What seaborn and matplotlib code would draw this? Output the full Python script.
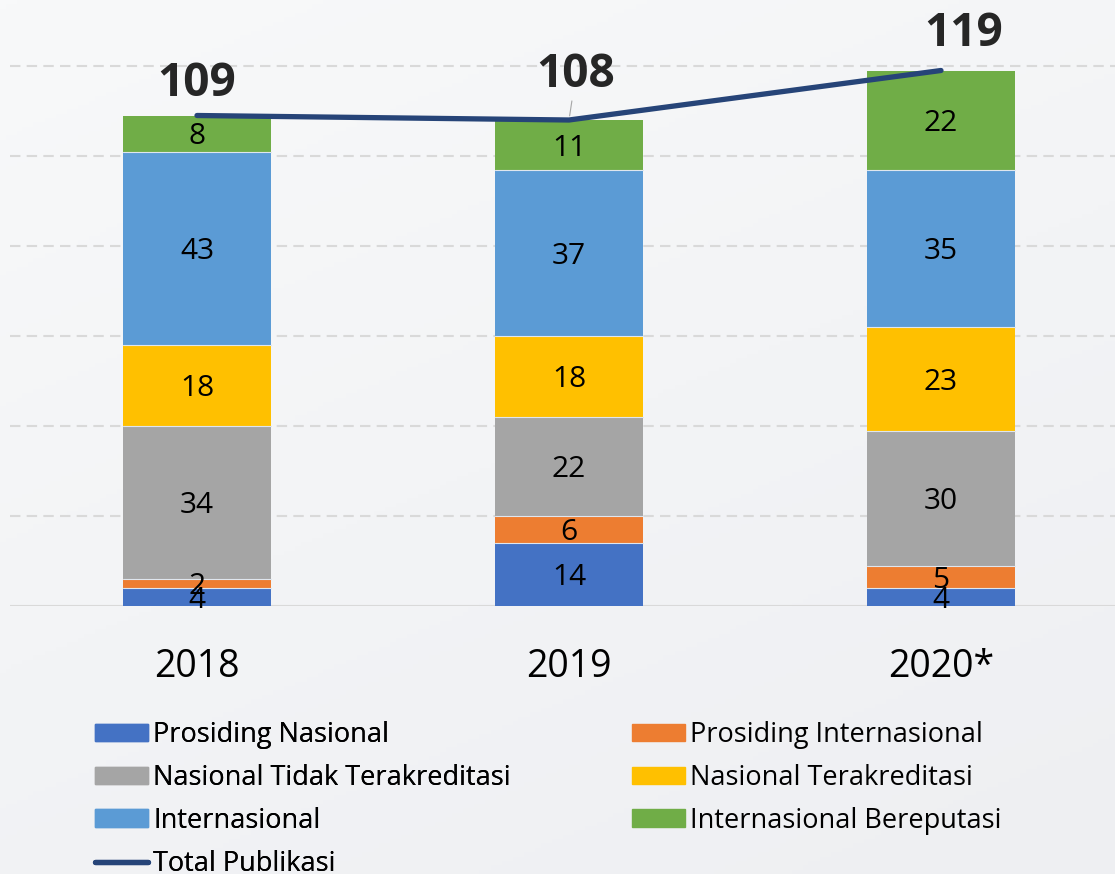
import numpy as np
import pandas as pd
import matplotlib
matplotlib.use("Agg")
import matplotlib.pyplot as plt
from matplotlib.patches import Patch
from matplotlib.lines import Line2D
import seaborn as sns

years = ["2018", "2019", "2020*"]
categories = ["Prosiding Nasional", "Prosiding Internasional", "Nasional Tidak Terakreditasi",
              "Nasional Terakreditasi", "Internasional", "Internasional Bereputasi"]
prosiding_nasional = [4, 14, 4]
prosiding_internasional = [2, 6, 5]
nasional_tidak_terakreditasi = [34, 22, 30]
nasional_terakreditasi = [18, 18, 23]
internasional = [43, 37, 35]
internasional_bereputasi = [8, 11, 22]
total_publikasi = [109, 108, 119]

colors = ["#4472C4", "#ED7D31", "#A5A5A5", "#FFC000", "#5B9BD5", "#70AD47"]
line_color = "#264478"

sns.set_style("white")
plt.rcParams["font.family"] = ["Open Sans", "DejaVu Sans"]

df = pd.DataFrame({"year": years})
series = [prosiding_nasional, prosiding_internasional, nasional_tidak_terakreditasi,
          nasional_terakreditasi, internasional, internasional_bereputasi]
for name, vals in zip(categories, series):
    df[name] = vals
cum = df[categories].cumsum(axis=1)

fig = plt.figure(figsize=(11.15, 8.74), dpi=100)

# light gradient background
bg = fig.add_axes([0, 0, 1, 1], zorder=-10)
gx, gy = np.meshgrid(np.linspace(0, 1, 200), np.linspace(0, 1, 200))
grad = 0.35 * gx + 0.65 * gy
bg.imshow(grad, cmap=matplotlib.colors.LinearSegmentedColormap.from_list(
    "bg", ["#f8f9fa", "#eeeff2"]), aspect="auto", extent=[0, 1, 0, 1], origin="upper")
bg.axis("off")

ax = fig.add_axes([10 / 1115, (874 - 606) / 874, 1 - 10 / 1115, 606 / 874])
ax.patch.set_alpha(0)

# stacked bars: draw cumulative totals from the top category down
for i in range(len(categories) - 1, -1, -1):
    sns.barplot(x=df["year"], y=cum[categories[i]], color=colors[i], saturation=1,
                width=0.398, errorbar=None, ax=ax, order=years, zorder=2,
                linewidth=0)
    # thin light seam at the top of each segment (below the topmost one)
    if i < len(categories) - 1:
        for j in range(len(years)):
            ax.plot([j - 0.199, j + 0.199], [cum[categories[i]][j]] * 2,
                    color="#dfe6ee", lw=0.8, zorder=3)

# segment labels
for j in range(len(years)):
    bottom = 0
    for i, name in enumerate(categories):
        v = df[name][j]
        ax.annotate(str(v), (j, bottom + v / 2), xytext=(0, -2.5), textcoords="offset points",
                    ha="center", va="center", fontsize=21.5, color="black", zorder=4)
        bottom += v

# total line
sns.lineplot(x=np.arange(len(years)), y=total_publikasi, color=line_color, lw=3.8,
             ax=ax, zorder=5, solid_capstyle="round")
label_offsets = [(0, 23), (5, 33), (16, 27)]
for j, t in enumerate(total_publikasi):
    arrow = None
    if j == 1:
        arrow = dict(arrowstyle="-", color="#a6a6a6", lw=0.8, shrinkA=19, shrinkB=3)
    ax.annotate(str(t), (j, t), xytext=label_offsets[j], textcoords="offset points",
                ha="center", va="center", fontsize=33, fontweight="bold", zorder=6,
                arrowprops=arrow)

ax.set_ylim(0, 606 / 4.5)
ax.set_xlim(-187 / 372, 2 + 174 / 372)
ax.set_yticks([20, 40, 60, 80, 100, 120])
ax.yaxis.grid(True, color="#D9D9D9", lw=1.5, ls=(0, (5, 3)))
ax.set_axisbelow(True)
ax.axhline(0, color="#D9D9D9", lw=1.5, zorder=1)
ax.tick_params(axis="y", left=False, labelleft=False)
ax.tick_params(axis="x", length=0, pad=30, labelsize=27, labelcolor="black")
ax.set_xlabel("")
ax.set_ylabel("")
sns.despine(ax=ax, left=True, bottom=True)

h1 = [Patch(color=colors[0]), Patch(color=colors[2]), Patch(color=colors[4]),
      Line2D([], [], color=line_color, lw=3.8, solid_capstyle="round")]
l1 = [categories[0], categories[2], categories[4], "Total Publikasi"]
h2 = [Patch(color=colors[1]), Patch(color=colors[3]), Patch(color=colors[5])]
l2 = [categories[1], categories[3], categories[5]]
leg_kw = dict(frameon=False, fontsize=19.5, handlelength=1.95, handleheight=0.62,
              handletextpad=0.2, labelspacing=0.55, borderaxespad=0, borderpad=0,
              labelcolor="black")
leg1 = fig.legend(h1, l1, loc="upper left", bbox_to_anchor=(95 / 1115, 1 - 721 / 874), **leg_kw)
fig.add_artist(leg1)
fig.legend(h2, l2, loc="upper left", bbox_to_anchor=(632 / 1115, 1 - 721 / 874), **leg_kw)

fig.savefig("out.png", dpi=100)
